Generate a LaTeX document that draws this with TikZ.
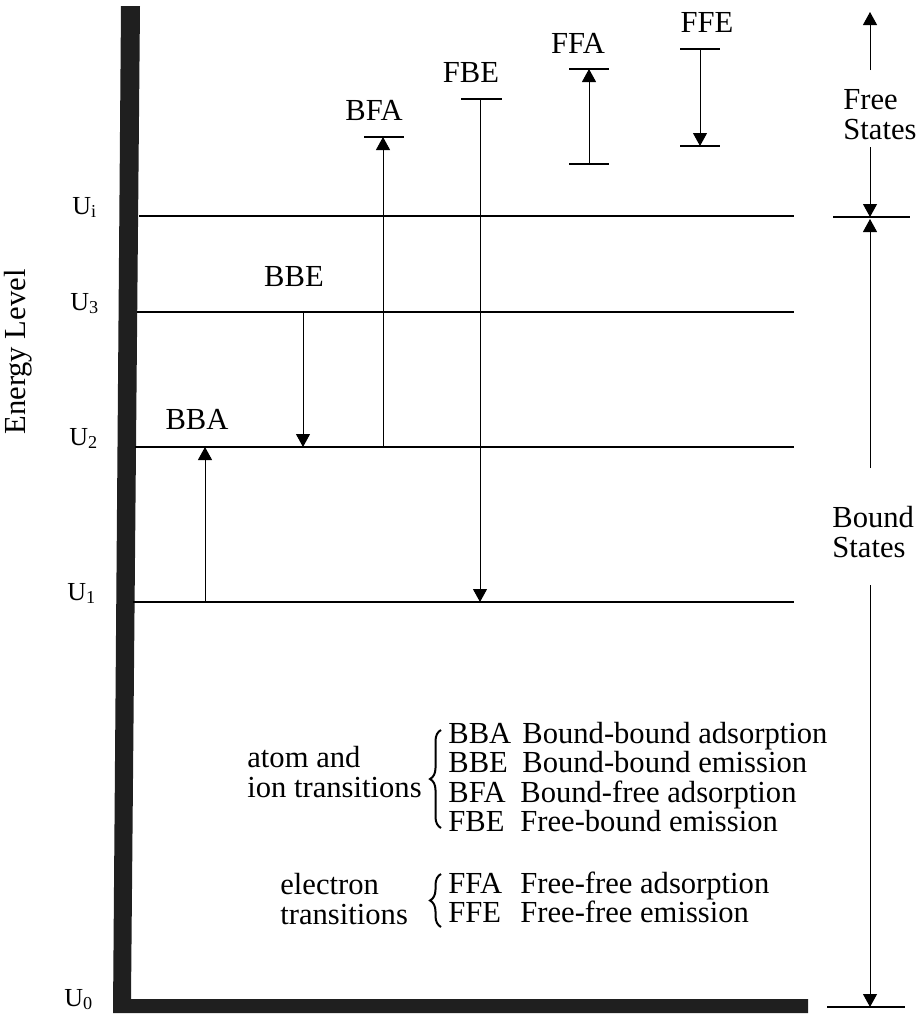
\documentclass[tikz,border=0pt]{standalone}
\usepackage{fontspec}
\setmainfont{Liberation Serif}
\usetikzlibrary{arrows.meta,decorations.pathreplacing}

\tikzset{
  level/.style={line width=0.8pt},
  trans/.style={line width=0.5pt, -{Triangle[width=7pt,length=6.5pt]}},
  tick/.style={line width=0.7pt},
  lbl/.style={font=\fontsize{15.3}{15}\selectfont, inner sep=0pt},
  key/.style={lbl, anchor=west, text height=9.5pt, text depth=3pt},
  ulbl/.style={font=\fontsize{13}{13}\selectfont, inner sep=0pt, anchor=base west},
  brc/.style={decorate, decoration={brace, amplitude=5.5pt}, line width=1pt},
}

\begin{document}
\begin{tikzpicture}[x=0.5pt, y=-0.5pt]
  \useasboundingbox (0,0) rectangle (917,1017);

  % axis
  \fill[black!88] (121,6) -- (140,6) -- (131,999) -- (808,999) -- (808,1013) -- (113,1013) -- cycle;
  \node[lbl, rotate=90] (elev) at (18,352) {Energy Level};

  % energy levels
  \foreach \n/\y/\x/\ux in {i/216/139/72, 3/312/137/70, 2/447/135/69, 1/602/133/67} {
    \draw[level] (\x,\y) coordinate (L\n) -- (794,\y) coordinate (R\n);
    \node[ulbl] (U\n) at (\ux,\y-2) {U\textsubscript{\n}};
  }
  \node[ulbl] (U0) at (64,1006) {U\textsubscript{0}};

  % bound-bound
  \coordinate (xBBA) at (205,0);
  \coordinate (xBBE) at (303,0);
  \draw[trans] (xBBA |- L1) -- (xBBA |- L2);
  \draw[trans] (xBBE |- L3) -- (xBBE |- L2);
  \node[lbl] (bba) at (197,419) {BBA};
  \node[lbl] (bbe) at (294,277) {BBE};

  % bound-free
  \coordinate (bfa) at (383,137);
  \coordinate (fbe) at (480,99);
  \draw[tick] (364,137) -- (404,137);
  \draw[tick] (461,99) -- (502,99);
  \draw[trans] (bfa |- L2) -- (bfa);
  \draw[trans] (fbe) -- (fbe |- L1);
  \node[lbl] (bfal) at (374,110) {BFA};
  \node[lbl] (fbel) at (471,73) {FBE};

  % free-free
  \coordinate (ffa0) at (589,164);
  \coordinate (ffa1) at (589,69);
  \coordinate (ffe0) at (700,49);
  \coordinate (ffe1) at (700,146);
  \draw[tick] (569,164) -- (609,164);
  \draw[tick] (569,69) -- (609,69);
  \draw[tick] (680,49) -- (720,49);
  \draw[tick] (680,146) -- (720,146);
  \draw[trans] (ffa0) -- (ffa1);
  \draw[trans] (ffe0) -- (ffe1);
  \node[lbl] (ffal) at (578,43) {FFA};
  \node[lbl] (ffel) at (707,22) {FFE};

  % free / bound states
  \draw[trans] (870,70) -- (870,12);
  \node[lbl, align=left, anchor=west] (free) at (843,115) {Free\\States};
  \draw[trans] (870,147) -- (870,217);
  \draw[tick] (833,217) -- (910,217);
  \draw[trans] (870,468) -- (870,219);
  \node[lbl, align=left, anchor=west] (bound) at (832,532) {Bound\\States};
  \draw[trans] (870,585) -- (870,1007);
  \draw[tick] (827,1007) -- (905,1007);

  % legend
  \node[lbl, align=left, anchor=west] (atom) at (247,772) {atom and\\ion transitions};
  \draw[brc] (441,828) -- (441,730);
  \node[key] (k1) at (448,737) {\makebox[37pt][l]{BBA}Bound-bound adsorption};
  \node[key] (k2) at (448,766) {\makebox[37pt][l]{BBE}Bound-bound emission};
  \node[key] (k3) at (448,796) {\makebox[36pt][l]{BFA}Bound-free adsorption};
  \node[key] (k4) at (448,825) {\makebox[36pt][l]{FBE}Free-bound emission};

  \node[lbl, align=left, anchor=west] (elec) at (280,899) {electron\\transitions};
  \draw[brc] (441,927) -- (441,874);
  \node[key] (k5) at (448,887) {\makebox[36pt][l]{FFA}Free-free adsorption};
  \node[key] (k6) at (448,916) {\makebox[36pt][l]{FFE}Free-free emission};
\end{tikzpicture}
\end{document}
